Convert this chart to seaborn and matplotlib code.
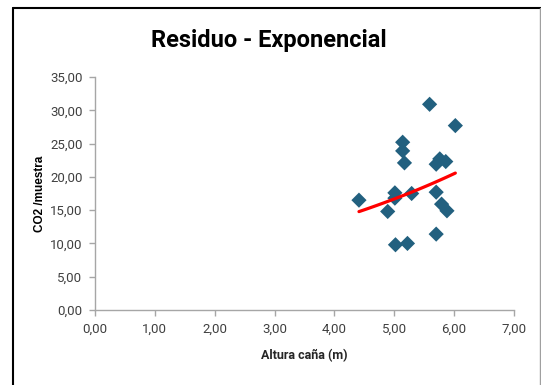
import numpy as np
import pandas as pd
import matplotlib
matplotlib.use("Agg")
import matplotlib.pyplot as plt
import seaborn as sns
from matplotlib.ticker import FuncFormatter
from matplotlib.lines import Line2D

# Data
altura = [5.59, 6.02, 5.14, 5.14, 5.17, 5.70, 5.76, 5.86, 4.41, 5.01, 5.01,
          5.29, 4.89, 5.70, 5.79, 5.88, 5.70, 5.02, 5.22]
co2 = [30.9, 27.7, 25.2, 23.9, 22.1, 21.9, 22.7, 22.3, 16.5, 17.6, 16.8,
       17.5, 14.8, 17.7, 15.9, 14.9, 11.4, 9.8, 10.0]
x_ticks = [0, 1, 2, 3, 4, 5, 6, 7]
y_ticks = [0, 5, 10, 15, 20, 25, 30, 35]

df = pd.DataFrame({"Altura": altura, "CO2": co2})

sns.set_theme(style="white")
plt.rcParams['font.family'] = ['Roboto', 'DejaVu Sans']

fig = plt.figure(figsize=(5.41, 3.85), dpi=100)
ax = fig.add_axes([95/541, 1-310/385, (514-95)/541, (310-77)/385])

sns.scatterplot(data=df, x="Altura", y="CO2", marker="D", s=60,
                color="#22607F", edgecolor="none", ax=ax, zorder=3)

# Exponential trend line fitted to the data
b, ln_a = np.polyfit(df["Altura"], np.log(df["CO2"]), 1)
xt = np.linspace(min(altura), max(altura), 50)
sns.lineplot(x=xt, y=np.exp(ln_a) * np.exp(b * xt), color="#FF0000",
             linewidth=2.3, ax=ax, zorder=4)

ax.set_xlim(0, 7)
ax.set_ylim(0, 35)
ax.set_xticks(x_ticks)
ax.set_yticks(y_ticks)
fmt = FuncFormatter(lambda v, p: f"{v:.2f}".replace(".", ","))
ax.xaxis.set_major_formatter(fmt)
ax.yaxis.set_major_formatter(fmt)

for s in ["top", "right"]:
    ax.spines[s].set_visible(False)
for s in ["left", "bottom"]:
    ax.spines[s].set_color("#A6A6A6")
    ax.spines[s].set_linewidth(1.0)
ax.tick_params(axis="both", which="major", direction="out", length=4,
               width=1.0, color="#A6A6A6", labelsize=9.5, labelcolor="#404040",
               pad=5)
ax.tick_params(axis="x", bottom=True)
ax.tick_params(axis="y", left=True)

ax.set_xlabel("Altura caña (m)", fontsize=9, fontweight="bold",
              color="#262626", labelpad=10)
ax.set_ylabel("CO2 /muestra", fontsize=8.5, fontweight="bold", color="#000000",
              family=["Liberation Sans", "DejaVu Sans"], labelpad=3)

fig.text(0.497, 1-40/385, "Residuo - Exponencial", ha="center", va="center",
         fontsize=17, fontweight="bold", color="#000000")

# chart frame
fig.add_artist(Line2D([12.5/541, 12.5/541], [0, 1-8/385], color="black",
                      linewidth=1.5, transform=fig.transFigure))
fig.add_artist(Line2D([12.5/541, 1], [1-8/385, 1-8/385], color="black",
                      linewidth=1.5, transform=fig.transFigure))
fig.add_artist(Line2D([539.5/541, 539.5/541], [0, 1-8/385], color="#A0A0A0",
                      linewidth=1.0, transform=fig.transFigure))

fig.savefig("out.png", dpi=100)
